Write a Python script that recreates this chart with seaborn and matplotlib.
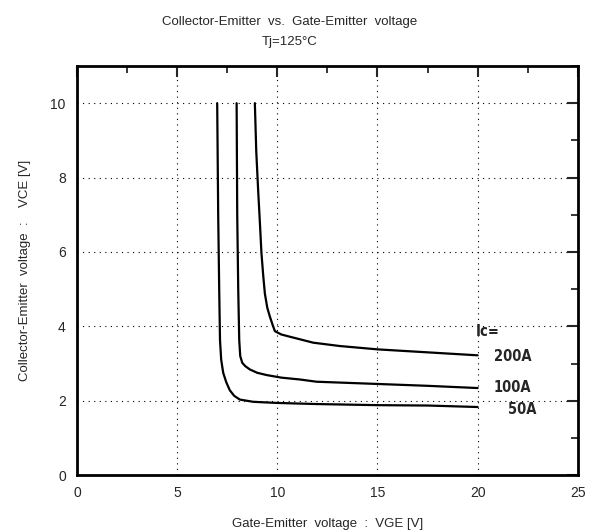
import matplotlib
matplotlib.use("Agg")
import matplotlib.pyplot as plt
import seaborn as sns
import pandas as pd
from matplotlib.ticker import MultipleLocator

# Data
vge_50 = [7.0, 7.05, 7.1, 7.14, 7.2, 7.3, 7.45, 7.63, 7.85, 8.13, 8.8, 9.96, 11.96, 15.0, 17.5, 20.0]
vce_50 = [10.0, 7.0, 5.0, 3.63, 3.1, 2.75, 2.5, 2.28, 2.13, 2.03, 1.97, 1.94, 1.91, 1.88, 1.87, 1.83]

vge_100 = [7.97, 8.0, 8.05, 8.1, 8.15, 8.25, 8.4, 8.63, 9.0, 9.46, 10.2, 11.13, 11.96, 15.0, 17.5, 20.0]
vce_100 = [10.0, 7.0, 5.0, 3.63, 3.2, 3.02, 2.93, 2.84, 2.75, 2.69, 2.62, 2.57, 2.51, 2.45, 2.4, 2.34]

vge_200 = [8.88, 8.95, 9.05, 9.13, 9.21, 9.3, 9.38, 9.5, 9.63, 9.76, 9.88, 10.2, 10.63, 11.79, 13.12, 15.0, 17.5, 20.0]
vce_200 = [10.0, 8.7, 7.6, 6.8, 5.96, 5.35, 4.88, 4.5, 4.26, 4.05, 3.87, 3.78, 3.72, 3.56, 3.47, 3.38, 3.3, 3.22]

series_labels = ["50A", "100A", "200A"]
x_ticks = [0, 5, 10, 15, 20, 25]
y_ticks = [0, 2, 4, 6, 8, 10]

sns.set_style("white")
plt.rcParams['font.family'] = ['Liberation Sans', 'DejaVu Sans']

frames = []
for lab, xs, ys in zip(series_labels, [vge_50, vge_100, vge_200], [vce_50, vce_100, vce_200]):
    frames.append(pd.DataFrame({"VGE": xs, "VCE": ys, "Ic": lab}))
df = pd.concat(frames, ignore_index=True)

fig = plt.figure(figsize=(5.92, 5.32), dpi=100)
ax = fig.add_axes([0.130, 0.107, 0.846, 0.769])

sns.lineplot(data=df, x="VGE", y="VCE", units="Ic", estimator=None, sort=False,
             color="black", linewidth=1.6, ax=ax, legend=False)

ax.set_xlim(0, 25)
ax.set_ylim(0, 11)
ax.set_xticks(x_ticks)
ax.set_yticks(y_ticks)
ax.xaxis.set_minor_locator(MultipleLocator(2.5))
ax.yaxis.set_minor_locator(MultipleLocator(1))
ax.tick_params(which="major", direction="in", length=8, width=1.5, labelsize=10,
               top=True, right=True, pad=8)
ax.tick_params(which="minor", direction="in", length=5, width=1.3, top=True, right=True)
ax.grid(True, which="major", linestyle=(0, (1, 4)), color="black", linewidth=0.8)
for s in ax.spines.values():
    s.set_linewidth(2)
    s.set_color("black")

ax.set_xlabel("Gate-Emitter  voltage  :  VGE [V]", fontsize=9.5, labelpad=13)
ax.set_ylabel("Collector-Emitter  voltage  :    VCE [V]", fontsize=9.5, labelpad=14)

fig.text(0.49, 0.958, "Collector-Emitter  vs.  Gate-Emitter  voltage", ha="center", va="center", fontsize=9.5)
fig.text(0.49, 0.921, "Tj=125°C", ha="center", va="center", fontsize=9.5)

lab_kw = dict(fontsize=10.5, fontweight="bold", family=["DejaVu Sans"], fontstretch="condensed",
              va="center", ha="left")
ax.text(19.9, 3.85, "Ic=", **lab_kw)
ax.text(20.8, 3.2, "200A", **lab_kw)
ax.text(20.8, 2.35, "100A", **lab_kw)
ax.text(21.5, 1.75, "50A", **lab_kw)

fig.savefig("out.png", dpi=100)
